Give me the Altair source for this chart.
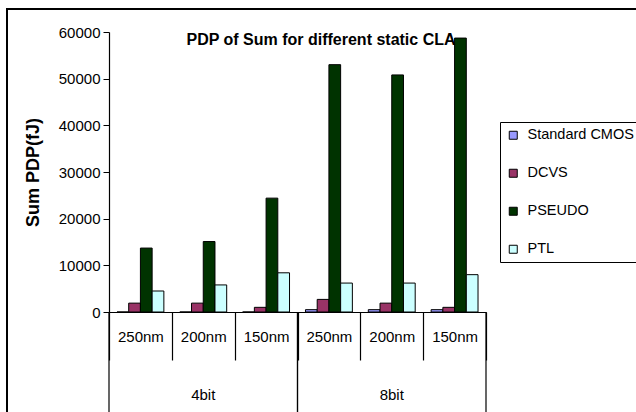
import altair as alt
import pandas as pd

# Bit widths, technology nodes and the four logic styles
bits = ["4bit", "8bit"]
nodes = ["250nm", "200nm", "150nm"]
styles = ["Standard CMOS", "DCVS", "PSEUDO", "PTL"]
colors = ["#9999FF", "#993366", "#003300", "#CCFFFF"]

# Sum PDP (fJ) per style, ordered 4bit 250/200/150nm then 8bit 250/200/150nm
cmos = [0, 0, 0, 500, 500, 500]
dcvs = [1900, 1900, 1000, 2700, 1900, 1000]
pseudo = [13700, 15100, 24400, 53000, 50800, 58700]
ptl = [4500, 5800, 8400, 6200, 6200, 8000]

title_text = "PDP of Sum for different static CLA"

cats = [f"{b}|{n}" for b in bits for n in nodes]
series = dict(zip(styles, [cmos, dcvs, pseudo, ptl]))

rows = []
for s in styles:
    for c, v in zip(cats, series[s]):
        rows.append({"cat": c, "style": s, "pdp": v})
df = pd.DataFrame(rows)

groups = pd.DataFrame({
    "bit": bits,
    "first": [f"{b}|{nodes[0]}" for b in bits],
    "mid": [f"{b}|{nodes[1]}" for b in bits],
    "last": [f"{b}|{nodes[-1]}" for b in bits],
})
single = pd.DataFrame({"t": [title_text]})

FONT = "Liberation Sans"
W, H = 377, 280

xscale = alt.Scale(domain=cats, paddingInner=0, paddingOuter=0)

bars = alt.Chart(df).mark_bar(stroke="black", strokeWidth=1).encode(
    x=alt.X("cat:N", scale=xscale, sort=cats,
            axis=alt.Axis(title=None, labelExpr="split(datum.label, '|')[1]",
                          labelAngle=0, labelFontSize=15, labelFont=FONT,
                          labelColor="black", labelPadding=-31,
                          tickBand="extent", tickSize=48, tickColor="black",
                          tickWidth=1.2, domainColor="black", domainWidth=1.2)),
    xOffset=alt.XOffset("style:N", sort=styles,
                        scale=alt.Scale(paddingInner=0, paddingOuter=0.68)),
    y=alt.Y("pdp:Q", scale=alt.Scale(domain=[0, 60000], nice=False),
            axis=alt.Axis(title="Sum PDP(fJ)", values=list(range(0, 60001, 10000)),
                          format="d", grid=False, labelFontSize=15, labelFont=FONT,
                          labelColor="black", tickColor="black", tickSize=6,
                          labelPadding=3, domainColor="black", domainWidth=1.2,
                          titleFont=FONT, titleFontSize=18, titleFontWeight="bold",
                          titleColor="black", titlePadding=16)),
    color=alt.Color("style:N", sort=styles,
                    scale=alt.Scale(domain=styles, range=colors),
                    legend=alt.Legend(title=None, orient="none", legendX=391, legendY=90,
                                      symbolType="square", symbolSize=64,
                                      symbolStrokeColor="black", symbolStrokeWidth=1,
                                      labelFont=FONT, labelFontSize=14.5,
                                      labelColor="black", labelOffset=7,
                                      rowPadding=23, padding=6,
                                      strokeColor="black", fillColor="white")),
)

# Bit-width labels centred under each group of nodes
bit_labels = alt.Chart(groups).mark_text(font=FONT, fontSize=15, color="black").encode(
    x=alt.X("mid:N", scale=xscale, sort=cats),
    y=alt.value(363),
    text="bit:N",
)

# Long dividers between the bit-width groups
div_left = alt.Chart(groups).mark_rule(color="black", strokeWidth=1.2).encode(
    x=alt.X("first:N", scale=xscale, sort=cats, bandPosition=0),
    y=alt.value(280), y2=alt.value(385),
)
div_right = alt.Chart(groups).mark_rule(color="black", strokeWidth=1.2).encode(
    x=alt.X("last:N", scale=xscale, sort=cats, bandPosition=1),
    y=alt.value(280), y2=alt.value(385),
)

# Chart title sitting inside the plot area
title = alt.Chart(single).mark_text(font=FONT, fontSize=16, fontWeight="bold",
                                     color="black", baseline="middle").encode(
    x=alt.value(212), y=alt.value(8), text="t:N",
)

# Outer frame (top and left edges visible)
frame = alt.Chart(single).mark_rect(fill=None, stroke="black", strokeWidth=2).encode(
    x=alt.value(-102), x2=alt.value(600), y=alt.value(-23), y2=alt.value(500),
)

chart = alt.layer(bars, bit_labels, div_left, div_right, title, frame).properties(
    width=W, height=H,
    autosize=alt.AutoSizeParams(type="none"),
    padding={"left": 109, "top": 32, "right": 150, "bottom": 100},
).configure_view(stroke=None)

chart.save("out.html", embed_options={"renderer": "svg", "actions": False})
